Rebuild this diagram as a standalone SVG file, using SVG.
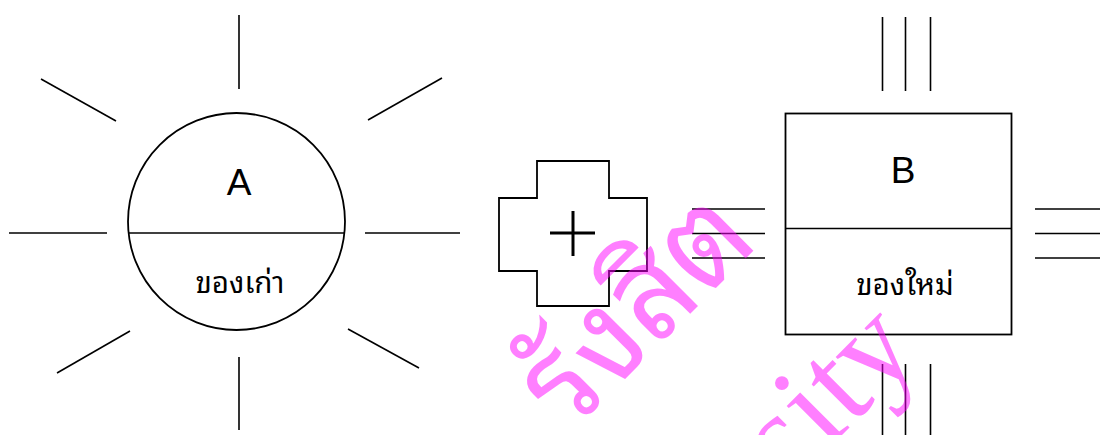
<svg xmlns="http://www.w3.org/2000/svg" width="1100" height="435" viewBox="0 0 1100 435">
<style>
.ln{stroke:#000;stroke-width:1.6;fill:none}
.shape{stroke:#000;stroke-width:1.8;fill:none}
.lbl{font-family:"Liberation Sans",Arial,sans-serif;font-size:37px;fill:#000;text-anchor:middle}
.th{font-family:"Noto Sans Thai Looped","Noto Serif Thai","Noto Sans Thai","DejaVu Sans",sans-serif;font-size:29.5px;fill:#000;text-anchor:middle}
.wm{fill:#ff00ff;fill-opacity:0.5}
</style>
<rect width="1100" height="435" fill="#fff"/>
<g id="nodeA">
<circle class="shape" cx="236.5" cy="221.5" r="108.5"/>
<line class="ln" x1="128" y1="233" x2="345" y2="233"/>
<text class="lbl" x="239" y="195">A</text>
<text class="th" x="240" y="293">ของเก่า</text>
</g>
<g id="nodeA-rays">
<line class="ln" x1="239" y1="15" x2="239" y2="89"/>
<line class="ln" x1="239" y1="357" x2="239" y2="430"/>
<line class="ln" x1="9" y1="233" x2="107" y2="233"/>
<line class="ln" x1="365" y1="233" x2="460" y2="233"/>
<line class="ln" x1="41" y1="79" x2="116" y2="121"/>
<line class="ln" x1="368" y1="120" x2="442" y2="78"/>
<line class="ln" x1="57" y1="373" x2="130" y2="331"/>
<line class="ln" x1="348" y1="329" x2="419" y2="368"/>
</g>
<g id="plus">
<polygon class="shape" points="537,161 609,161 609,198 647,198 647,271 609,271 609,306 537,306 537,271 499,271 499,198 537,198"/>
<line stroke="#000" stroke-width="3" x1="550" y1="233" x2="595" y2="233"/>
<line stroke="#000" stroke-width="3" x1="573" y1="211" x2="573" y2="256"/>
</g>
<g id="nodeB">
<rect class="shape" x="785.5" y="113.5" width="226" height="221"/>
<line class="ln" x1="785.5" y1="228.5" x2="1011.5" y2="228.5"/>
<text class="lbl" x="903" y="183">B</text>
<text class="th" x="905" y="295">ของใหม่</text>
</g>
<g id="connectors">
<line class="ln" x1="692" y1="209" x2="765" y2="209"/>
<line class="ln" x1="692" y1="233.5" x2="765" y2="233.5"/>
<line class="ln" x1="692" y1="258" x2="765" y2="258"/>
<line class="ln" x1="1035" y1="209" x2="1100" y2="209"/>
<line class="ln" x1="1035" y1="233.5" x2="1100" y2="233.5"/>
<line class="ln" x1="1035" y1="258" x2="1100" y2="258"/>
<line class="ln" x1="882.5" y1="17" x2="882.5" y2="91"/>
<line class="ln" x1="905.5" y1="17" x2="905.5" y2="91"/>
<line class="ln" x1="930.5" y1="17" x2="930.5" y2="91"/>
<line class="ln" x1="882.5" y1="364" x2="882.5" y2="435"/>
<line class="ln" x1="905.5" y1="364" x2="905.5" y2="435"/>
<line class="ln" x1="930.5" y1="364" x2="930.5" y2="435"/>
</g>
<g id="watermark" class="wm">
<text x="570" y="434" transform="rotate(-45 570 434)" font-family="'Noto Sans Thai Looped','Noto Serif Thai','Noto Sans Thai',sans-serif" font-size="130" textLength="270" lengthAdjust="spacingAndGlyphs">รังสิต</text>
<text x="790" y="487" transform="rotate(-45 790 487)" font-family="'Liberation Serif',serif" font-size="130">sity</text>
</g>
</svg>
